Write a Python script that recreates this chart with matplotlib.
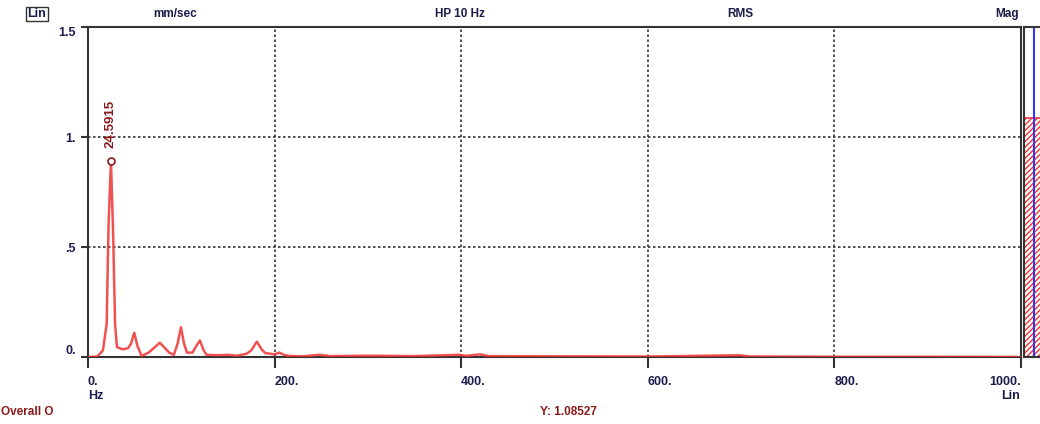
import numpy as np
import matplotlib.pyplot as plt
from matplotlib.patches import Rectangle

# spectrum (Hz, mm/sec RMS)
freq = [0, 10, 16, 20, 22, 24.6, 27, 29, 31, 37, 43, 46, 49.6, 53, 57.5, 65, 77, 87,
        92, 96, 99.6, 103, 106, 112, 116, 120, 124, 127, 140, 150, 160, 170, 175,
        181, 186, 190, 195, 200, 205, 210, 215, 230, 248, 260, 280, 300, 350, 398,
        405, 420, 430, 500, 600, 698, 710, 800, 900, 1000]
amp = [0.0, 0.002, 0.03, 0.15, 0.6, 0.89, 0.55, 0.15, 0.045, 0.035, 0.04, 0.06, 0.11,
       0.05, 0.005, 0.02, 0.065, 0.02, 0.01, 0.06, 0.135, 0.06, 0.02, 0.02, 0.05, 0.075,
       0.03, 0.01, 0.008, 0.01, 0.006, 0.015, 0.03, 0.07, 0.035, 0.018, 0.015, 0.012,
       0.02, 0.01, 0.005, 0.003, 0.01, 0.004, 0.005, 0.006, 0.004, 0.01, 0.005, 0.012,
       0.004, 0.003, 0.002, 0.008, 0.002, 0.001, 0.001, 0.0]

peak_f = 24.5915
peak_a = 0.89
overall = 1.08527

xticks = [0, 200, 400, 600, 800, 1000]
xlabels = ['0.', '200.', '400.', '600.', '800.', '1000.']
yticks = [0, 0.5, 1.0, 1.5]
ylabels = ['0.', '.5', '1.', '1.5']

navy = '#1c1c4c'
dred = '#8b1a1a'
plt.rcParams['font.family'] = ['Liberation Sans', 'DejaVu Sans']
plt.rcParams['font.weight'] = 'bold'
plt.rcParams['hatch.color'] = '#e33'

fig = plt.figure(figsize=(10.4, 4.24), dpi=100)
ax = fig.add_axes([88/1040, 1-357/424, (1021-88)/1040, (357-27)/424])

ax.plot(freq, amp, color='#e33', lw=1.8, alpha=0.85, zorder=3)
ax.plot([peak_f], [peak_a], 'o', mfc='white', mec=dred, ms=5, mew=1.2, zorder=4)
ax.text(peak_f, peak_a + 0.06, '24.5915', rotation=90, ha='center', va='bottom',
        color=dred, fontsize=9.5, fontweight='bold')

ax.set_xlim(0, 1000)
ax.set_ylim(0, 1.5)
ax.set_xticks(xticks)
ax.set_xticklabels(xlabels)
ax.set_yticks(yticks)
ax.set_yticklabels(ylabels)
for lab in ax.get_xticklabels():
    lab.set_horizontalalignment('left')
ax.get_xticklabels()[-1].set_horizontalalignment('right')
ylabs = ax.get_yticklabels()
ylabs[0].set_verticalalignment('bottom')
ylabs[-1].set_verticalalignment('top')
ax.tick_params(axis='x', direction='out', length=8, width=1.5, pad=6,
               labelsize=9, labelcolor=navy, color='#333')
ax.tick_params(axis='y', direction='out', length=5, width=1.5, pad=4,
               labelsize=9, labelcolor=navy, color='#333')
ax.grid(True, ls=(0, (1.5, 1.5)), color='#333', lw=1.2)
for s in ax.spines.values():
    s.set_color('#333')
    s.set_linewidth(1.5)

fig.text(37/1040, 1-14/424, 'Lin', ha='center', va='center', fontsize=9,
         color=navy, fontweight='bold',
         bbox=dict(boxstyle='square,pad=0.1', fc='white', ec='#333', lw=1))
fig.text(175/1040, 1-14/424, 'mm/sec', ha='center', va='center', fontsize=8.5, color=navy)
fig.text(460/1040, 1-14/424, 'HP 10 Hz', ha='center', va='center', fontsize=8.5, color=navy)
fig.text(740/1040, 1-14/424, 'RMS', ha='center', va='center', fontsize=8.5, color=navy)
fig.text(1019/1040, 1-14/424, 'Mag', ha='right', va='center', fontsize=8.5, color=navy)
fig.text(88/1040, 1-396/424, 'Hz', ha='left', va='center', fontsize=9, color=navy)
fig.text(1020/1040, 1-396/424, 'Lin', ha='right', va='center', fontsize=9, color=navy)
fig.text(1/1040, 1-412/424, 'Overall O', ha='left', va='center', fontsize=8.5, color=dred)
fig.text(540/1040, 1-412/424, 'Y: 1.08527', ha='left', va='center', fontsize=8.5, color=dred)

# overall level bar on the right
bx = fig.add_axes([1024/1040, 1-357/424, 30/1040, (357-27)/424])
bx.set_xlim(0, 1)
bx.set_ylim(0, 1.5)
bx.add_patch(Rectangle((0, 0), 1, overall, fc='white', ec='#e33', hatch='//////', lw=1.2))
bx.axvline(0.33, color='#33f', lw=1.5)
bx.set_xticks([])
bx.set_yticks([])
for s in bx.spines.values():
    s.set_color('#333')
    s.set_linewidth(1.5)

fig.savefig('out.png', dpi=100)
